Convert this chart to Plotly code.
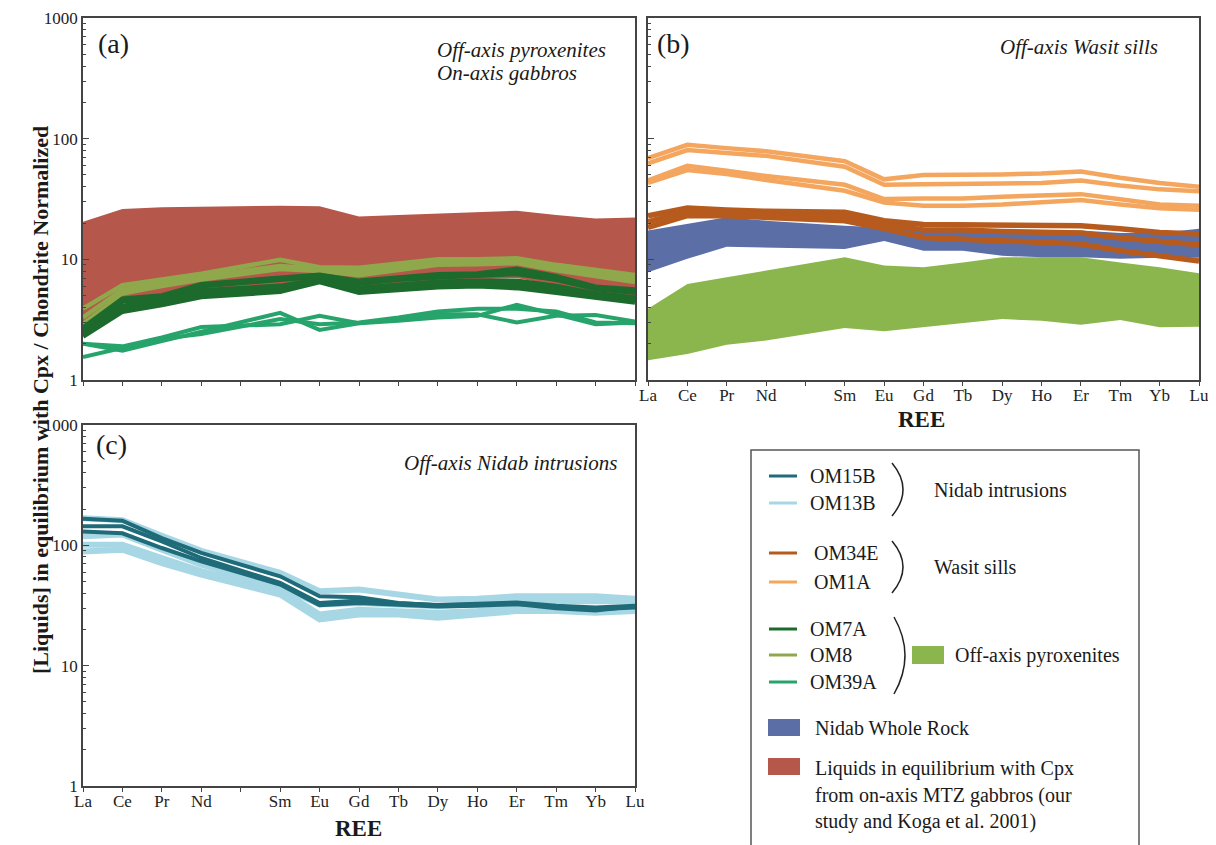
"""REE diagrams: liquids in equilibrium with Cpx, chondrite normalized."""

import plotly.graph_objects as go

W, H = 1216, 845
FONT = "Liberation Serif"
PAGE_OFFSET = 8  # browser body margin

# element positions (Pm slot left empty)
REE_POS = [0, 1, 2, 3, 5, 6, 7, 8, 9, 10, 11, 12, 13, 14]
TICK_POS = list(range(15))
TICK_TEXT = ["La", "Ce", "Pr", "Nd", "", "Sm", "Eu", "Gd", "Tb", "Dy", "Ho", "Er", "Tm", "Yb", "Lu"]
MINOR_TICKS = [m * 10 ** d for d in range(3) for m in range(2, 10)]

# ---- panel (a): off-axis pyroxenites, on-axis gabbros
gabbro_liq_upper = [20.5, 26.1, 27.0, 27.3, 27.8, 27.5, 22.6, 23.3, 24.0, 24.5, 25.3, 23.3, 21.8, 22.2]
gabbro_liq_lower = [2.3, 4.3, 4.8, 5.6, 6.2, 7.0, 6.0, 6.3, 6.6, 6.8, 7.0, 6.0, 5.2, 4.5]

om8 = [
    [3.9, 6.1, 6.8, 7.6, 9.9, 8.6, 8.5, 9.3, 10.0, 10.0, 10.2, 9.0, 8.2, 7.4],
    [3.3, 5.6, 6.4, 7.2, 8.8, 8.4, 7.9, 8.7, 9.4, 9.5, 9.6, 8.5, 7.6, 6.9],
    [2.9, 5.2, 6.0, 6.8, 8.3, 8.0, 7.4, 8.2, 9.0, 9.1, 9.3, 8.1, 7.2, 6.5],
]
om7a = [
    [2.3, 3.7, 4.2, 4.9, 5.4, 6.5, 5.3, 5.6, 5.9, 6.0, 5.8, 5.3, 4.8, 4.4],
    [2.4, 3.9, 4.4, 5.2, 5.7, 6.6, 5.5, 5.9, 6.2, 6.3, 6.2, 5.6, 5.0, 4.6],
    [2.5, 4.1, 4.6, 5.5, 6.0, 6.8, 5.8, 6.2, 6.5, 6.6, 6.6, 6.0, 5.2, 4.8],
    [2.6, 4.5, 4.9, 6.0, 6.8, 7.2, 6.3, 6.8, 7.1, 7.3, 7.6, 6.8, 5.7, 5.3],
    [2.7, 4.7, 5.0, 6.2, 7.0, 7.4, 6.6, 7.1, 7.5, 7.6, 8.3, 7.2, 5.9, 5.6],
]
om39a = [
    [2.0, 1.75, 2.1, 2.5, 3.6, 2.6, 2.95, 3.1, 3.3, 3.4, 4.2, 3.5, 2.9, 3.0],
    [2.0, 1.9, 2.25, 2.75, 2.9, 3.4, 2.95, 3.2, 3.5, 3.5, 3.0, 3.4, 3.45, 3.05],
    [1.55, 1.85, 2.2, 2.4, 3.2, 2.9, 3.0, 3.3, 3.7, 3.9, 3.9, 3.7, 3.0, 2.95],
]

# ---- panel (b): off-axis Wasit sills
pyrox_upper = [3.9, 6.25, 7.1, 8.05, 10.4, 8.9, 8.6, 9.4, 10.4, 10.4, 10.4, 9.4, 8.6, 7.65]
pyrox_lower = [1.46, 1.64, 1.96, 2.12, 2.7, 2.53, 2.73, 2.95, 3.2, 3.1, 2.87, 3.14, 2.73, 2.76]
nidab_wr_upper = [17.3, 19.6, 22.3, 20.9, 19.0, 18.4, 18.0, 18.0, 17.5, 17.5, 17.3, 16.5, 16.5, 17.9]
nidab_wr_lower = [7.8, 10.1, 12.7, 12.6, 12.2, 14.2, 11.8, 11.8, 10.7, 10.4, 10.4, 10.1, 10.3, 10.3]

om34e = [
    [23.0, 26.6, 25.6, 25.0, 24.5, 20.9, 19.4, 19.4, 19.2, 19.2, 19.0, 17.9, 16.7, 16.2],
    [20.5, 25.0, 24.5, 23.5, 22.5, 19.5, 17.5, 17.5, 17.0, 16.8, 16.5, 15.0, 14.0, 13.2],
    [18.4, 23.0, 23.0, 22.3, 20.9, 18.0, 15.2, 14.7, 14.3, 14.0, 13.4, 11.8, 10.7, 9.7],
]
om1a = [
    [69, 89, 83.5, 78.6, 65, 46, 50, 50, 50.5, 51.5, 53.5, 47.5, 43, 40],
    [62.5, 80.5, 76, 72, 58.5, 41.5, 42, 42, 42.5, 43, 45, 41, 38, 36.6],
    [45, 59.5, 54.3, 49.1, 41.5, 31.6, 32, 32, 33, 34, 34.7, 31.5, 28.5, 27.8],
    [43, 55, 50.9, 45.4, 37, 29.6, 27.8, 27.8, 28.5, 29.5, 31, 28.5, 26.5, 25.7],
]

# ---- panel (c): off-axis Nidab intrusions
om15b = [
    [166, 160, 115, 86.4, 55.3, 37.7, 37.0, 33.2, 31.8, 32.0, 32.5, 31.0, 29.5, 30.5],
    [144, 144, 108, 78.5, 48.7, 33.2, 34.8, 33.0, 32.0, 32.5, 33.5, 31.5, 30.5, 31.5],
    [130, 126, 95, 73.7, 47.2, 31.8, 33.2, 32.0, 31.0, 31.5, 32.5, 30.0, 28.7, 31.2],
]
om13b = [
    [168, 162, 120, 90, 59, 41.5, 43, 39, 35.4, 36, 37.7, 37.7, 37.7, 36],
    [119, 123, 92, 69, 45.7, 32.2, 33.2, 32.5, 31.2, 32.5, 34.3, 34.3, 34.3, 34.3],
    [101, 101, 78.5, 61, 42.9, 26.6, 29.2, 28.5, 27.5, 28.5, 30.2, 29.5, 29.2, 29.2],
    [89, 92, 71, 57, 39, 24.2, 26.6, 26.6, 25, 26.6, 28.4, 28.4, 27.5, 28.4],
]

C_RED = "#b5574a"
C_OLIVE = "#8fa84c"
C_DKGREEN = "#1d6a2d"
C_TEALGREEN = "#27a46c"
C_LTORANGE = "#f4a65e"
C_DKORANGE = "#b65b1d"
C_BLUE = "#5b6ea6"
C_GREEN = "#8bb64d"
C_DKTEAL = "#1f6b79"
C_LTBLUE = "#a7d7e4"


def px(x):
    return (x - PAGE_OFFSET) / W


def py(y):
    return 1 - (y - PAGE_OFFSET) / H


fig = go.Figure()


def band(upper, lower, color, xa, ya):
    fig.add_trace(go.Scatter(
        x=REE_POS + REE_POS[::-1], y=upper + lower[::-1],
        fill="toself", fillcolor=color, mode="lines", line=dict(width=0),
        xaxis=xa, yaxis=ya, showlegend=False, hoverinfo="skip",
    ))


def lines(series, color, width, xa, ya):
    for s in series:
        fig.add_trace(go.Scatter(
            x=REE_POS, y=s, mode="lines", line=dict(color=color, width=width),
            xaxis=xa, yaxis=ya, showlegend=False,
        ))


# panel a
band(gabbro_liq_upper, gabbro_liq_lower, C_RED, "x", "y")
lines(om8, C_OLIVE, 4.5, "x", "y")
lines(om7a, C_DKGREEN, 5, "x", "y")
lines(om39a, C_TEALGREEN, 4, "x", "y")
# panel b
band(pyrox_upper, pyrox_lower, C_GREEN, "x2", "y2")
band(nidab_wr_upper, nidab_wr_lower, C_BLUE, "x2", "y2")
lines(om34e, C_DKORANGE, 5.5, "x2", "y2")
lines(om1a, C_LTORANGE, 4.5, "x2", "y2")
# panel c
lines(om13b, C_LTBLUE, 6, "x3", "y3")
lines(om15b, C_DKTEAL, 4, "x3", "y3")

axis_common = dict(
    showline=True, mirror=True, linecolor="#444", linewidth=1.5,
    showgrid=False, zeroline=False, automargin=False,
    tickfont=dict(family=FONT, size=17, color="#222"),
)
x_common = dict(axis_common, range=[0, 14], tickmode="array", tickvals=TICK_POS,
                ticktext=TICK_TEXT, ticks="outside", ticklen=4, tickcolor="#444",
                ticklabelstandoff=-5)
y_common = dict(axis_common, type="log", range=[0, 3], dtick=1, ticks="inside",
                ticklen=6, tickcolor="#444",
                minor=dict(ticks="inside", ticklen=3, tickmode="array", tickvals=MINOR_TICKS,
                           tickcolor="#444", showgrid=False))

fig.update_layout(
    width=W, height=H, margin=dict(l=0, r=0, t=0, b=0, pad=0),
    paper_bgcolor="white", plot_bgcolor="white", showlegend=False,
    xaxis=dict(x_common, domain=[px(83), px(635)], anchor="y", showticklabels=False),
    yaxis=dict(y_common, domain=[py(380), py(18)], anchor="x"),
    xaxis2=dict(x_common, domain=[px(648), px(1199)], anchor="y2"),
    yaxis2=dict(y_common, domain=[py(380), py(18)], anchor="x2", showticklabels=False),
    xaxis3=dict(x_common, domain=[px(83), px(635)], anchor="y3"),
    yaxis3=dict(y_common, domain=[py(786), py(425)], anchor="x3"),
)

ann = []


def text(x, y, s, size=18, xanchor="left", bold=False, italic=False, angle=0):
    t = s
    if bold:
        t = f"<b>{t}</b>"
    if italic:
        t = f"<i>{t}</i>"
    ann.append(dict(x=px(x), y=py(y), xref="paper", yref="paper", text=t,
                    showarrow=False, xanchor=xanchor, yanchor="middle", textangle=angle,
                    font=dict(family=FONT, size=size, color="#1a1a1a")))


text(96, 44, "(a)", size=28)
text(435, 50, "Off-axis pyroxenites", size=21, italic=True)
text(435, 73, "On-axis gabbros", size=21, italic=True)
text(655, 44, "(b)", size=28)
text(1160, 47, "Off-axis Wasit sills", size=21, italic=True, xanchor="right")
text(94, 444, "(c)", size=28)
text(620, 463, "Off-axis Nidab intrusions", size=21, italic=True, xanchor="right")
text(921, 420, "REE", size=23, bold=True, xanchor="center")
text(358, 828, "REE", size=23, bold=True, xanchor="center")
text(40, 400, "[Liquids] in equilibrium with Cpx / Chondrite Normalized", size=22,
     bold=True, xanchor="center", angle=-90)

# legend
shapes = [dict(type="rect", xref="paper", yref="paper", x0=px(751), x1=px(1139),
               y0=py(870), y1=py(450), line=dict(color="#555", width=1.5), fillcolor="white",
               layer="below")]
legend_lines = [
    ("OM15B", C_DKTEAL, 476, 808), ("OM13B", C_LTBLUE, 503, 808),
    ("OM34E", C_DKORANGE, 553, 812), ("OM1A", C_LTORANGE, 582, 812),
    ("OM7A", C_DKGREEN, 629, 808), ("OM8", C_OLIVE, 655, 808), ("OM39A", C_TEALGREEN, 682, 808),
]
for name, col, yy, tx in legend_lines:
    shapes.append(dict(type="line", xref="paper", yref="paper", x0=px(769), x1=px(797),
                       y0=py(yy), y1=py(yy), line=dict(color=col, width=3)))
    text(tx, yy, name, size=20)

for y0, y1, xb in [(463, 516, 904), (541, 593, 904), (617, 694, 906)]:
    xm = (y0 + y1) / 2
    shapes.append(dict(type="path", xref="paper", yref="paper",
                       path=f"M {px(xb - 12)},{py(y0)} Q {px(xb + 10)},{py(xm)} {px(xb - 12)},{py(y1)}",
                       line=dict(color="#222", width=1.5)))
text(932, 490, "Nidab intrusions", size=20)
text(932, 567, "Wasit sills", size=20)

for x0, x1, y0, y1, col in [(912, 944, 646, 664, C_GREEN), (768, 800, 719, 736, C_BLUE),
                            (768, 800, 758, 775, C_RED)]:
    shapes.append(dict(type="rect", xref="paper", yref="paper", x0=px(x0), x1=px(x1),
                       y0=py(y1), y1=py(y0), fillcolor=col, line=dict(width=0)))
text(953, 655, "Off-axis pyroxenites", size=20)
text(813, 728, "Nidab Whole Rock", size=20)
text(813, 768, "Liquids in equilibrium with Cpx", size=20)
text(813, 795, "from on-axis MTZ gabbros (our", size=20)
text(813, 821, "study and Koga et al. 2001)", size=20)

fig.update_layout(annotations=ann, shapes=shapes)
fig.write_html("out.html")
